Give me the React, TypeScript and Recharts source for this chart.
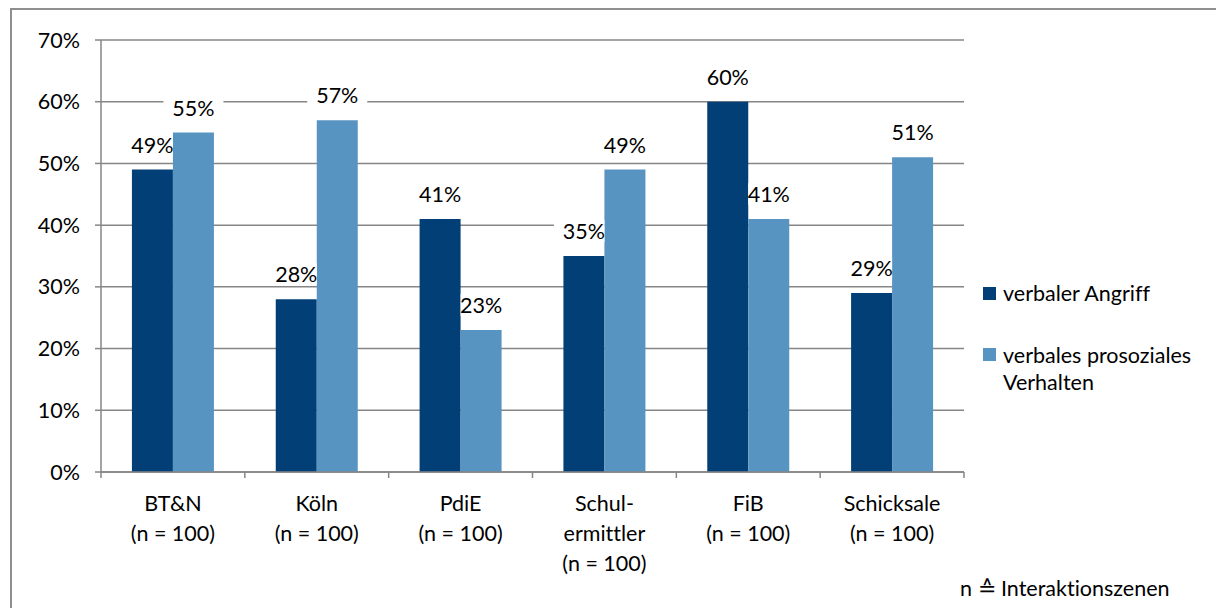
import React from "react";
import { BarChart, Bar, XAxis, YAxis, CartesianGrid, LabelList } from "recharts";

const categories = ["BT&N", "Köln", "PdiE", "Schul-\nermittler", "FiB", "Schicksale"];
const sampleSizes = [100, 100, 100, 100, 100, 100];
const verbalerAngriff = [49, 28, 41, 35, 60, 29];
const verbalesProsozial = [55, 57, 23, 49, 41, 51];
const yTicks = [0, 10, 20, 30, 40, 50, 60, 70];
const seriesNames = ["verbaler Angriff", "verbales prosoziales Verhalten"];
const footNote = "n ≙ Interaktionszenen";

const DARK = "#023F77";
const LIGHT = "#5894C1";
const GRID = "#868686";
const FONT = "Lato, 'Open Sans', sans-serif";
const FS = 21.5;

const W = 1216;
const H = 608;
const MARGIN = { top: 40, right: 252, left: 0, bottom: 106 };
const Y_AXIS_W = 101;
const X_AXIS_H = 30;
const PLOT_BOTTOM = H - MARGIN.bottom - X_AXIS_H;
const BAND = (W - MARGIN.left - Y_AXIS_W - MARGIN.right) / categories.length;

const data = categories.map((name, i) => ({
  name,
  angriff: verbalerAngriff[i],
  prosozial: verbalesProsozial[i],
}));

function CategoryTick(props: any) {
  const { x, payload } = props;
  const i = categories.indexOf(payload.value);
  const lines = [...String(payload.value).split("\n"), `(n = ${sampleSizes[i]})`];
  const left = x - BAND / 2;
  const right = x + BAND / 2;
  return (
    <g>
      <line x1={left} x2={left} y1={PLOT_BOTTOM} y2={PLOT_BOTTOM + 6} stroke={GRID} strokeWidth={1.5} />
      {i === categories.length - 1 && (
        <line x1={right} x2={right} y1={PLOT_BOTTOM} y2={PLOT_BOTTOM + 6} stroke={GRID} strokeWidth={1.5} />
      )}
      <text textAnchor="middle" dominantBaseline="central" fontSize={FS} fontFamily={FONT} fill="#000">
        {lines.map((l, k) => (
          <tspan key={k} x={x} y={PLOT_BOTTOM + 31 + k * 30}>
            {l}
          </tspan>
        ))}
      </text>
    </g>
  );
}

// value label with a white box that hides the grid line, but never covers the neighbour bar
const makeLabel = (neighbour: number[], side: "left" | "right") => (props: any) => {
  const { x, y, width, height, value, index } = props;
  const cx = x + width / 2;
  const cy = y - 25;
  const top = cy - 11;
  const bottom = cy + 11;
  let rx1 = cx - 30;
  let rx2 = cx + 30;
  const perUnit = value ? height / value : 0;
  const neighbourTop = y + height - neighbour[index] * perUnit;
  if (neighbourTop < bottom) {
    if (side === "left") rx1 = x;
    else rx2 = x + width;
  }
  return (
    <g>
      <rect x={rx1} y={top} width={rx2 - rx1} height={bottom - top} fill="#fff" />
      <text x={cx} y={cy} textAnchor="middle" dominantBaseline="central" fontSize={FS} fontFamily={FONT} fill="#000">
        {value}%
      </text>
    </g>
  );
};

const labelAngriff = makeLabel(verbalesProsozial, "right");
const labelProsozial = makeLabel(verbalerAngriff, "left");

const textStyle: React.CSSProperties = {
  position: "absolute",
  fontFamily: FONT,
  fontSize: FS,
  color: "#000",
  fontVariantLigatures: "none",
};

export default function App() {
  return (
    <div style={{ position: "relative", width: W, height: H, overflow: "hidden", background: "#fff" }}>
      <style>{`body{margin:0} svg text{font-variant-ligatures:none}`}</style>
      <div
        style={{
          position: "absolute",
          left: 10,
          top: 8,
          width: W,
          height: H,
          border: "2px solid #8f8f8f",
          boxSizing: "border-box",
        }}
      />
      <BarChart
        width={W}
        height={H}
        data={data}
        margin={MARGIN}
        barCategoryGap="21.5%"
        barGap={0}
        style={{ position: "absolute", left: 0, top: 0 }}
      >
        <CartesianGrid vertical={false} stroke={GRID} strokeWidth={1.5} />
        <XAxis
          dataKey="name"
          interval={0}
          height={X_AXIS_H}
          tickLine={false}
          axisLine={{ stroke: GRID, strokeWidth: 1.5 }}
          tick={<CategoryTick />}
        />
        <YAxis
          width={Y_AXIS_W}
          domain={[0, 70]}
          ticks={yTicks}
          interval={0}
          tickSize={6}
          tickMargin={15}
          tickFormatter={(v: number) => `${v}%`}
          tick={{ fontSize: FS, fontFamily: FONT, fill: "#000" }}
          tickLine={{ stroke: GRID, strokeWidth: 1.5 }}
          axisLine={{ stroke: GRID, strokeWidth: 1.5 }}
        />
        <Bar dataKey="angriff" name={seriesNames[0]} fill={DARK} isAnimationActive={false}>
          <LabelList dataKey="angriff" content={labelAngriff} />
        </Bar>
        <Bar dataKey="prosozial" name={seriesNames[1]} fill={LIGHT} isAnimationActive={false}>
          <LabelList dataKey="prosozial" content={labelProsozial} />
        </Bar>
      </BarChart>

      <div style={{ position: "absolute", left: 983, top: 287, width: 13, height: 13, background: DARK }} />
      <div style={{ ...textStyle, left: 1003, top: 279, lineHeight: "28px", whiteSpace: "nowrap" }}>
        {seriesNames[0]}
      </div>
      <div style={{ position: "absolute", left: 983, top: 348, width: 13, height: 13, background: LIGHT }} />
      <div style={{ ...textStyle, left: 1003, top: 342, width: 200, lineHeight: "27px" }}>
        {seriesNames[1]}
      </div>

      <div style={{ ...textStyle, left: 960, top: 574, lineHeight: "28px", whiteSpace: "nowrap" }}>
        {footNote}
      </div>
    </div>
  );
}
